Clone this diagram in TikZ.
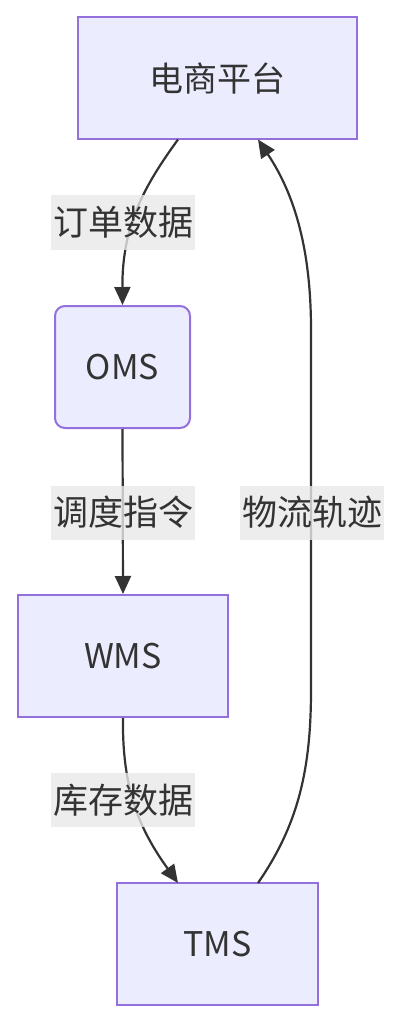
\documentclass[tikz,border=0pt]{standalone}
\usepackage{fontspec}
\setmainfont{Noto Sans CJK SC}
\usetikzlibrary{arrows.meta}
\definecolor{nodefill}{HTML}{ECECFF}
\definecolor{nodeline}{HTML}{9370DB}
\definecolor{edgecol}{HTML}{333333}
\definecolor{labelbg}{HTML}{E8E8E8}
\tikzset{
  box/.style={draw=nodeline, fill=nodefill, line width=2pt, minimum height=122pt, inner sep=0pt, text=edgecol, font=\fontsize{34}{40}\selectfont},
  edgelabel/.style={fill=labelbg, fill opacity=0.8, text opacity=1, text=edgecol, inner sep=0pt, minimum width=144pt, minimum height=54pt, font=\fontsize{35}{42}\selectfont},
  link/.style={draw=edgecol, line width=2.2pt, -{Triangle[length=18pt,width=16pt]}}
}
\begin{document}
\begin{tikzpicture}[x=1pt,y=-1pt]
\useasboundingbox (0,0) rectangle (402,1024);
\node[box, minimum width=279pt] (ec) at (217.5,78.5) {电商平台};
\node[box, minimum width=135pt, rounded corners=10pt] (oms) at (122.5,367) {OMS};
\node[box, minimum width=210pt] (wms) at (123,656) {WMS};
\node[box, minimum width=201pt] (tms) at (217.5,944) {TMS};
\coordinate (ecL) at (178,139.5);
\coordinate (ecR) at (258,139.5);
\coordinate (tmsL) at (178,883);
\coordinate (tmsR) at (258,883);
\draw[link] (ecL) .. controls (145,185) and (122,225) .. (oms.north);
\draw[link] (oms.south) -- (wms.north);
\draw[link] (wms.south) .. controls (122,790) and (140,830) .. (tmsL);
\draw[link] (tmsR) .. controls (298,825) and (311,770) .. (311,690) -- (311,330) .. controls (311,250) and (295,195) .. (ecR);
\node[edgelabel] (l1) at (123,222.5) {订单数据};
\node[edgelabel] (l2) at (123,512.5) {调度指令};
\node[edgelabel] (l3) at (123,800) {库存数据};
\node[edgelabel] (l4) at (312,512.5) {物流轨迹};
\end{tikzpicture}
\end{document}
